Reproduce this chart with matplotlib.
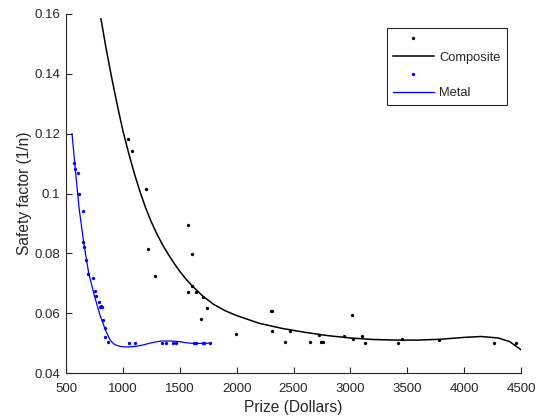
import matplotlib
matplotlib.use("Agg")
import matplotlib.pyplot as plt
from matplotlib.lines import Line2D

plt.rcParams['font.family'] = ['Liberation Sans', 'DejaVu Sans']

# Composite scatter data
comp_x = [1042, 1080, 1200, 1218, 1285, 1570, 1611, 1605, 1570, 1640, 1704, 1737, 1687,
          1996, 2300, 2315, 2308, 2423, 2472, 2641, 2720, 2741, 2759, 2947, 3017, 3023,
          3099, 3129, 3422, 3456, 3777, 4264, 4454]
comp_y = [0.1182, 0.1143, 0.1016, 0.0815, 0.0725, 0.0896, 0.0798, 0.0692, 0.0671, 0.0670,
          0.0653, 0.0617, 0.0580, 0.0530, 0.0607, 0.0607, 0.0541, 0.0503, 0.0540, 0.0503,
          0.0527, 0.0503, 0.0504, 0.0524, 0.0595, 0.0513, 0.0524, 0.0501, 0.0501, 0.0513,
          0.0509, 0.0501, 0.0501]

# Composite fitted curve
comp_fit_x = [807, 850, 900, 950, 1000, 1050, 1100, 1150, 1200, 1250, 1300, 1350, 1400,
              1450, 1500, 1550, 1600, 1700, 1800, 1900, 2000, 2200, 2400, 2600, 2800, 3000,
              3200, 3400, 3600, 3800, 4000, 4150, 4300, 4400, 4500]
comp_fit_y = [0.1584, 0.1490, 0.1390, 0.1297, 0.1210, 0.1136, 0.1068, 0.1007, 0.0952, 0.0905,
              0.0864, 0.0828, 0.0796, 0.0767, 0.0740, 0.0716, 0.0695, 0.0658, 0.0629, 0.0608,
              0.0592, 0.0566, 0.0549, 0.0536, 0.0525, 0.0517, 0.0512, 0.0510, 0.0510, 0.0513,
              0.0519, 0.0522, 0.0517, 0.0505, 0.0478]

# Metal scatter data
metal_x = [570, 579, 605, 614, 652, 647, 658, 678, 696, 735, 752, 764, 793, 810, 799, 816,
           828, 846, 840, 867, 1052, 1109, 1348, 1379, 1442, 1463, 1624, 1639, 1700, 1717, 1767]
metal_y = [0.1101, 0.1083, 0.1067, 0.0997, 0.0940, 0.0839, 0.0822, 0.0778, 0.0730, 0.0719,
           0.0673, 0.0658, 0.0638, 0.0624, 0.0619, 0.0622, 0.0578, 0.0550, 0.0521, 0.0503,
           0.0500, 0.0500, 0.0500, 0.0500, 0.0500, 0.0500, 0.0500, 0.0500, 0.0500, 0.0500, 0.0500]

# Metal fitted curve
metal_fit_x = [553, 585, 617, 660, 700, 750, 800, 850, 887, 915, 940, 990, 1040, 1085, 1130,
               1180, 1230, 1290, 1342, 1420, 1493, 1560, 1615, 1700, 1766]
metal_fit_y = [0.1200, 0.1068, 0.0945, 0.0825, 0.0733, 0.0657, 0.0592, 0.0541, 0.0511, 0.0499,
               0.0493, 0.0488, 0.0487, 0.0488, 0.0490, 0.0494, 0.0499, 0.0504, 0.0507, 0.0507,
               0.0505, 0.0501, 0.0499, 0.0499, 0.0500]

x_ticks = [500, 1000, 1500, 2000, 2500, 3000, 3500, 4000, 4500]
y_ticks = [0.04, 0.06, 0.08, 0.1, 0.12, 0.14, 0.16]
y_tick_labels = ['0.04', '0.06', '0.08', '0.1', '0.12', '0.14', '0.16']

TXT = '#262626'
BLUE = '#0000ff'
MS = 2.4

fig = plt.figure(figsize=(5.4, 4.18), dpi=100)
ax = fig.add_axes([66/540, 1 - 373/418, (521-66)/540, (373-14)/418])

ax.plot(comp_x, comp_y, 'o', color='black', markersize=MS, markeredgewidth=0, linestyle='none')
ax.plot(comp_fit_x, comp_fit_y, '-', color='black', linewidth=1.1)
ax.plot(metal_x, metal_y, 'o', color=BLUE, markersize=MS, markeredgewidth=0, linestyle='none')
ax.plot(metal_fit_x, metal_fit_y, '-', color=BLUE, linewidth=0.9)

ax.set_xlim(500, 4500)
ax.set_ylim(0.04, 0.16)
ax.set_xticks(x_ticks)
ax.set_xticklabels([str(t) for t in x_ticks])
ax.set_yticks(y_ticks)
ax.set_yticklabels(y_tick_labels)

for s in ['top', 'right']:
    ax.spines[s].set_visible(False)
for s in ['left', 'bottom']:
    ax.spines[s].set_color(TXT)
    ax.spines[s].set_linewidth(0.8)
ax.tick_params(direction='in', length=4, width=0.8, colors=TXT, labelsize=9.5)
ax.tick_params(axis='x', pad=7)
ax.tick_params(axis='y', pad=4)

ax.set_xlabel('Prize (Dollars)', fontsize=11.2, color=TXT, labelpad=3.5)
ax.set_ylabel('Safety factor (1/n)', fontsize=11.2, color=TXT, labelpad=2)

handles = [
    Line2D([], [], marker='o', color='black', markersize=MS, markeredgewidth=0, linestyle='none'),
    Line2D([], [], color='black', linewidth=1.1),
    Line2D([], [], marker='o', color=BLUE, markersize=MS, markeredgewidth=0, linestyle='none'),
    Line2D([], [], color=BLUE, linewidth=0.9),
]
labels = [' ', 'Composite', ' ', 'Metal']
leg = ax.legend(handles, labels, loc='upper left', bbox_to_anchor=(0.7055, 0.961),
                borderaxespad=0, fontsize=9.3, frameon=True, fancybox=False, framealpha=1,
                edgecolor=TXT, handlelength=3.2, handletextpad=0.4,
                borderpad=0.45, labelspacing=0.44)
leg.get_frame().set_linewidth(0.8)
for t in leg.get_texts():
    t.set_color(TXT)

fig.savefig('out.png', dpi=100)
